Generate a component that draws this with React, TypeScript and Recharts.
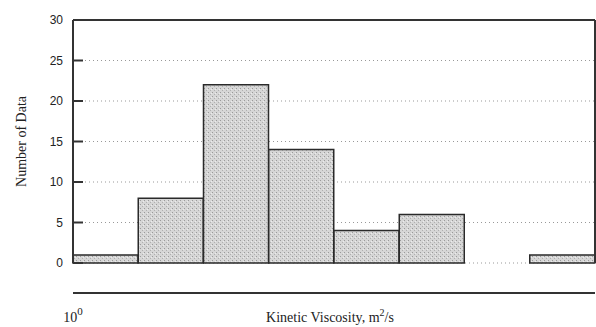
import React from 'react';
import { ComposedChart, Bar, XAxis, YAxis, CartesianGrid } from 'recharts';

const binLabels = ['1e-7', '1e-6', '1e-5', '1e-4', '1e-3', '1e-2', '1e-1', '1e0'];
const counts = [1, 8, 22, 14, 4, 6, 0, 1];
const xTickExponents = [-6, -4, -2, 0];
const yTicks = [0, 5, 10, 15, 20, 25, 30];
const xDomain = [-7, 1];

const data = binLabels.map((bin, i) => ({ bin, count: counts[i] }));

const serif = '"Liberation Serif", "Times New Roman", serif';
const sans = '"Liberation Sans", Arial, sans-serif';

const XTick = (props: any) => {
  const { x, y, payload } = props;
  return (
    <text x={x} y={y + 21} textAnchor="middle" fontFamily={serif} fontSize={14} fill="#222">
      <tspan>10</tspan>
      <tspan dy={-7} fontSize={11}>{String(payload.value)}</tspan>
    </text>
  );
};

const YTick = (props: any) => {
  const { x, y, payload } = props;
  return (
    <text x={x} y={y + 4} textAnchor="end" fontFamily={sans} fontSize={12} fill="#222">
      {payload.value}
    </text>
  );
};

export default function App() {
  return (
    <div style={{ position: 'absolute', left: 0, top: 0, width: 596, height: 327, overflow: 'hidden', background: '#fff' }}>
      <ComposedChart
        width={596}
        height={327}
        data={data}
        margin={{ top: 19, right: 0, bottom: 1, left: 0 }}
        barCategoryGap={0}
        barGap={0}
      >
        <defs>
          <pattern id="stip" width="4" height="4" patternUnits="userSpaceOnUse">
            <rect width="4" height="4" fill="#d6d6d6" />
            <rect x="0" y="0" width="1" height="1" fill="#9a9a9a" />
            <rect x="2" y="2" width="1" height="1" fill="#b0b0b0" />
            <rect x="3" y="1" width="1" height="1" fill="#ececec" />
          </pattern>
        </defs>
        <CartesianGrid xAxisId="num" yAxisId="l" stroke="#999" strokeDasharray="1 3" ticks={undefined} />
        <XAxis xAxisId="cat" dataKey="bin" hide />
        <XAxis
          xAxisId="num"
          type="number"
          domain={xDomain}
          ticks={xTickExponents}
          allowDataOverflow
          height={63}
          tickLine={false}
          axisLine={{ stroke: '#333', strokeWidth: 2 }}
          tick={<XTick />}
          label={{
            content: (p: any) => (
              <text
                x={p.viewBox.x + p.viewBox.width / 2 - 4}
                y={322}
                textAnchor="middle"
                fontFamily={serif}
                fontSize={14}
                fill="#222"
              >
                <tspan>Kinetic Viscosity, m</tspan>
                <tspan dy={-6} fontSize={10}>2</tspan>
                <tspan dy={6}>/s</tspan>
              </text>
            ),
          }}
        />
        <XAxis
          xAxisId="top"
          orientation="top"
          type="number"
          domain={xDomain}
          ticks={xTickExponents}
          allowDataOverflow
          height={1}
          tick={false}
          tickSize={-9}
          tickLine={{ stroke: '#333', strokeWidth: 2 }}
          axisLine={{ stroke: '#333', strokeWidth: 2 }}
        />
        <YAxis
          yAxisId="l"
          domain={[0, 30]}
          ticks={yTicks}
          width={73}
          tickSize={-10}
          tickMargin={20}
          tickLine={{ stroke: '#333', strokeWidth: 2 }}
          axisLine={{ stroke: '#333', strokeWidth: 2 }}
          tick={<YTick />}
          label={{
            content: (p: any) => (
              <text
                x={26}
                y={p.viewBox.y + p.viewBox.height / 2}
                transform={`rotate(-90, 26, ${p.viewBox.y + p.viewBox.height / 2})`}
                textAnchor="middle"
                fontFamily={serif}
                fontSize={14}
                fill="#222"
              >
                Number of Data
              </text>
            ),
          }}
        />
        <YAxis
          yAxisId="r"
          orientation="right"
          domain={[0, 30]}
          ticks={yTicks}
          width={1}
          tick={false}
          tickSize={-10}
          tickLine={{ stroke: '#333', strokeWidth: 2 }}
          axisLine={{ stroke: '#333', strokeWidth: 2 }}
        />
        <Bar
          xAxisId="cat"
          yAxisId="l"
          dataKey="count"
          fill="url(#stip)"
          stroke="#2a2a2a"
          strokeWidth={1.5}
          isAnimationActive={false}
        />
      </ComposedChart>
    </div>
  );
}
